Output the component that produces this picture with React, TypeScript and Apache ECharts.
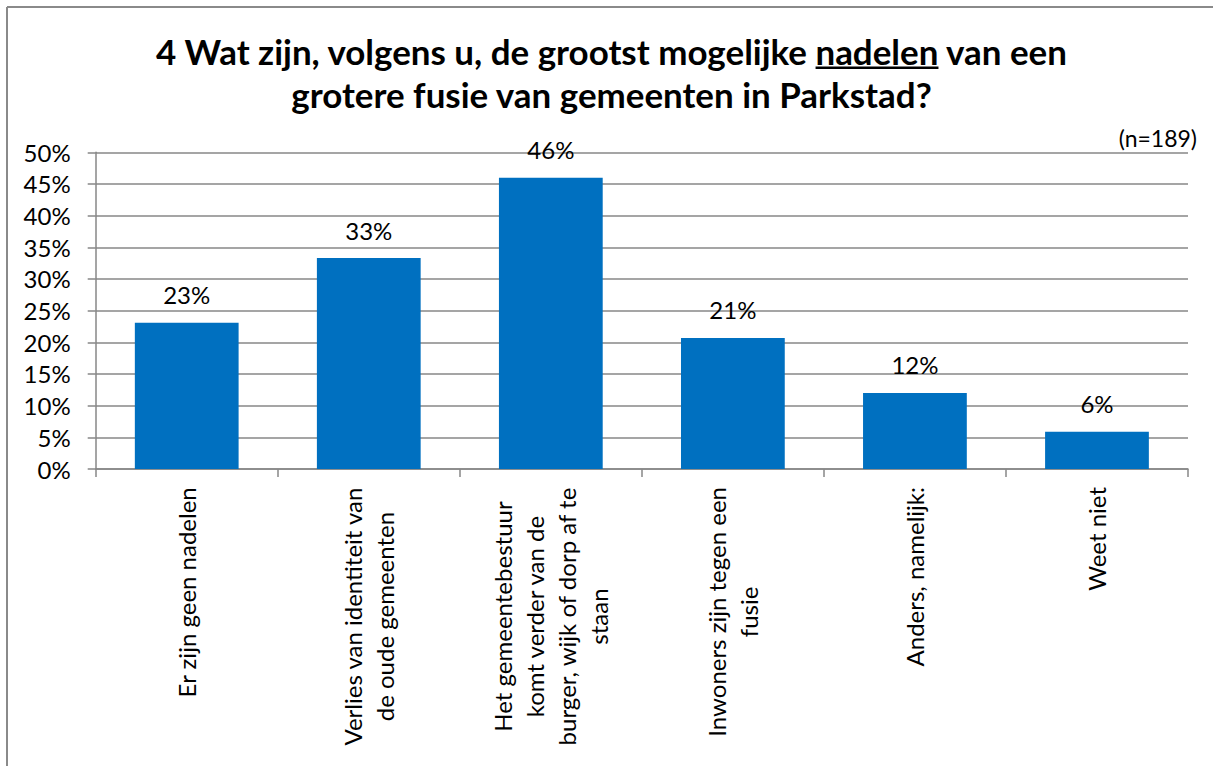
import React, { useEffect, useRef } from "react";
import * as echarts from "echarts";

const categories = [
  "Er zijn geen nadelen",
  "Verlies van identiteit van\nde oude gemeenten",
  "Het gemeentebestuur\nkomt verder van de\nburger, wijk of dorp af te\nstaan",
  "Inwoners zijn tegen een\nfusie",
  "Anders, namelijk:",
  "Weet niet",
];
const values = [23.1, 33.3, 46.0, 20.7, 12.0, 5.9];
const yMin = 0;
const yMax = 50;
const yStep = 5;
const titleBefore = "4 Wat zijn, volgens u, de grootst mogelijke ";
const titleUnderlined = "nadelen";
const titleAfter = " van een";
const titleLine2 = "grotere fusie van gemeenten in Parkstad?";
const sampleNote = "(n=189)";

const FONT = "Lato, 'Open Sans', sans-serif";
const GRAY = "#878787";

function measure(text: string, font: string): number {
  const c = document.createElement("canvas").getContext("2d");
  if (!c) return text.length * 15;
  c.font = font;
  return c.measureText(text).width;
}

export default function App() {
  const ref = useRef<HTMLDivElement>(null);
  useEffect(() => {
    if (!ref.current) return;
    const chart = echarts.init(ref.current, undefined, { renderer: "svg" });

    const line1 = titleBefore + titleUnderlined + titleAfter;
    const baseSize = 30;
    const w0 = measure(line1, `bold ${baseSize}px Lato`);
    const titleSize = Math.max(24, Math.min(36, (baseSize * 913) / w0));
    const tFont = `bold ${titleSize}px Lato`;
    const totalW = measure(line1, tFont);
    const beforeW = measure(titleBefore, tFont);
    const wordW = measure(titleUnderlined, tFont);
    const cx = 611.5;
    const ulX = cx - totalW / 2 + beforeW;

    const labelFont = 24;

    chart.setOption({
      animation: false,
      backgroundColor: "#ffffff",
      textStyle: { fontFamily: FONT },
      grid: { left: 95.7, right: 25, top: 152.3, bottom: 297, containLabel: false },
      xAxis: {
        type: "category",
        data: categories,
        axisLine: { show: true, lineStyle: { color: GRAY, width: 1.5 } },
        axisTick: { show: true, length: 8, interval: 0, lineStyle: { color: GRAY, width: 1.5 } },
        axisLabel: {
          interval: 0,
          rotate: 90,
          margin: 18,
          formatter: (v: string) =>
            v
              .split("\n")
              .map((l) => `{c|${l}}`)
              .join("\n"),
          rich: {
            c: {
              align: "center",
              fontSize: labelFont,
              lineHeight: 32,
              fontFamily: FONT,
              color: "#000",
            },
          },
        },
      },
      yAxis: {
        type: "value",
        min: yMin,
        max: yMax,
        interval: yStep,
        axisLine: { show: true, lineStyle: { color: GRAY, width: 1.5 } },
        axisTick: { show: true, length: 8, lineStyle: { color: GRAY, width: 1.5 } },
        axisLabel: {
          margin: 25,
          formatter: "{value}%",
          fontSize: labelFont,
          fontFamily: FONT,
          color: "#000",
        },
        splitLine: { show: true, lineStyle: { color: GRAY, width: 1.5 } },
      },
      series: [
        {
          type: "bar",
          data: values,
          barCategoryGap: "43%",
          itemStyle: { color: "#0070C0" },
          label: {
            show: true,
            position: "top",
            distance: 16,
            formatter: (p: any) => `${Math.round(p.value)}%`,
            fontSize: labelFont,
            fontFamily: FONT,
            color: "#000",
          },
        },
      ],
      graphic: [
        {
          type: "line",
          shape: { x1: 7, y1: 7, x2: 1213, y2: 7 },
          style: { stroke: "#8a8a8a", lineWidth: 2 },
        },
        {
          type: "line",
          shape: { x1: 7, y1: 7, x2: 7, y2: 766 },
          style: { stroke: "#8a8a8a", lineWidth: 2 },
        },
        {
          type: "text",
          x: cx,
          y: 51,
          style: {
            text: line1,
            font: tFont,
            fontFamily: "Lato",
            fontWeight: "bold",
            fontSize: titleSize,
            fill: "#000",
            align: "center",
            verticalAlign: "middle",
          },
        },
        {
          type: "text",
          x: cx,
          y: 94,
          style: {
            text: titleLine2,
            font: tFont,
            fontFamily: "Lato",
            fontWeight: "bold",
            fontSize: titleSize,
            fill: "#000",
            align: "center",
            verticalAlign: "middle",
          },
        },
        {
          type: "rect",
          shape: { x: ulX, y: 66.5, width: wordW, height: 2.5 },
          style: { fill: "#000" },
        },
        {
          type: "text",
          x: 1197,
          y: 138,
          style: {
            text: sampleNote,
            fontFamily: FONT,
            fontSize: 23,
            fill: "#000",
            align: "right",
            verticalAlign: "middle",
          },
        },
      ],
    });
    return () => chart.dispose();
  }, []);
  return (
    <div
      ref={ref}
      style={{ position: "fixed", left: 0, top: 0, width: 1213, height: 766, background: "#fff" }}
    />
  );
}
